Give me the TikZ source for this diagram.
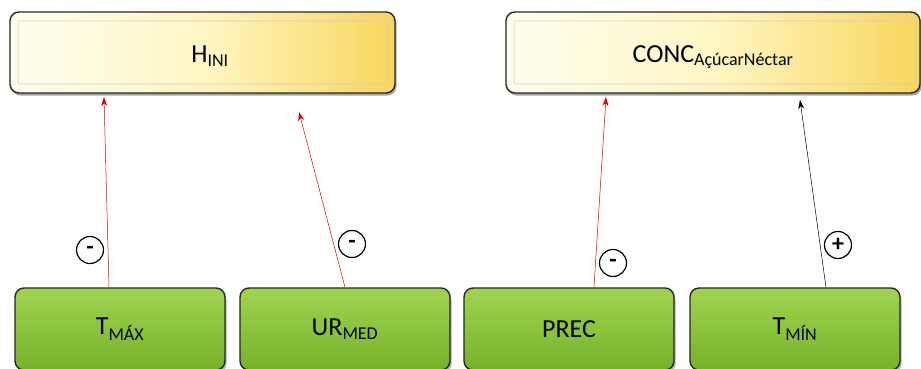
\documentclass[tikz,border=0pt]{standalone}
\usepackage{fontspec}
\setmainfont{Carlito}
\usetikzlibrary{arrows.meta,shadows}
\begin{document}
\begin{tikzpicture}[x=1pt,y=-1pt,
  topbox/.style={draw=black!85,line width=1.4pt,rounded corners=9pt,
    left color=yellow!6,right color={rgb,255:red,248;green,214;blue,92},
    middle color={rgb,255:red,255;green,246;blue,196},
    drop shadow={shadow xshift=1.5pt,shadow yshift=-2.5pt,opacity=0.7},
    minimum height=81pt,font=\fontsize{26}{30}\selectfont},
  botbox/.style={draw=black!85,line width=1.4pt,rounded corners=9pt,
    top color={rgb,255:red,160;green,212;blue,80},bottom color={rgb,255:red,118;green,178;blue,40},
    drop shadow={shadow xshift=1.5pt,shadow yshift=-2.5pt,opacity=0.6},
    minimum width=210pt,minimum height=82pt,font=\fontsize{26}{30}\selectfont},
  sign/.style={circle,draw=black,line width=1.2pt,fill=white,inner sep=0pt,minimum size=27pt,font=\bfseries\fontsize{24}{26}\selectfont},
  infl/.style={-{Stealth[length=9pt,width=6pt]},line width=0.5pt}
]
\useasboundingbox (0,0) rectangle (921,368);
\node[topbox,minimum width=385pt] (hini) at (202.5,52.5) {};
\draw[black!20,line width=0.6pt,rounded corners=2pt] (18,21) rectangle (387,84);
\node[font=\fontsize{26}{30}\selectfont] (hinit) at (210,56) {H\textsubscript{\fontsize{18}{20}\selectfont INI}};
\node[topbox,minimum width=414pt] (conc) at (713,52.5) {};
\draw[black!20,line width=0.6pt,rounded corners=2pt] (514,21) rectangle (916,84);
\node[font=\fontsize{26}{30}\selectfont] (conct) at (713,57) {CONC\textsubscript{\fontsize{18}{20}\selectfont AçúcarNéctar}};

\node[botbox] (tmax) at (120,329) {T\textsubscript{\fontsize{18}{20}\selectfont MÁX}};
\node[botbox] (urmed) at (345,329) {UR\textsubscript{\fontsize{18}{20}\selectfont MED}};
\node[botbox] (prec) at (569,329) {PREC};
\node[botbox] (tmin) at (795,329) {T\textsubscript{\fontsize{18}{20}\selectfont MÍN}};

\coordinate (a1) at (104,97);
\coordinate (a2) at (299,112);
\coordinate (a3) at (606,97);
\coordinate (a4) at (800,100);
\draw[infl,red!85!black] (tmax.north -| 109,0) -- (a1);
\draw[infl,red!85!black] (urmed.north -| 345,0) -- (a2);
\draw[infl,red!85!black] (prec.north -| 594,0) -- (a3);
\draw[infl,black] (tmin.north -| 826,0) -- (a4);

\node[sign] (s1) at (90,250) {-};
\node[sign] (s2) at (352,244) {-};
\node[sign] (s3) at (613,263) {-};
\node[sign] (s4) at (838,245) {+};
\end{tikzpicture}
\end{document}
